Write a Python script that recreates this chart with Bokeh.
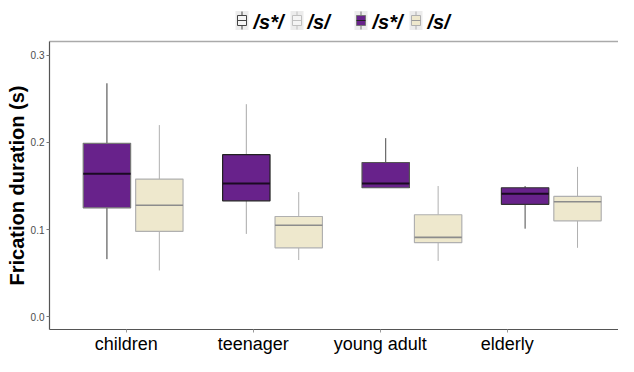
from bokeh.plotting import figure
from bokeh.layouts import column
from bokeh.models import (ColumnDataSource, Range1d, LinearAxis, FixedTicker,
                          PrintfTickFormatter)
from bokeh.core.properties import value
from bokeh.embed import file_html
from bokeh.resources import INLINE

# ---- data ----
categories = ["children", "teenager", "young adult", "elderly"]
series = ["/s*/", "/s/"]

sstar_lower = [0.066, 0.095, 0.148, 0.101]
sstar_q1 = [0.125, 0.133, 0.148, 0.129]
sstar_median = [0.164, 0.153, 0.153, 0.141]
sstar_q3 = [0.199, 0.186, 0.177, 0.148]
sstar_upper = [0.268, 0.244, 0.205, 0.150]

s_lower = [0.053, 0.065, 0.064, 0.079]
s_q1 = [0.098, 0.079, 0.085, 0.110]
s_median = [0.128, 0.105, 0.091, 0.132]
s_q3 = [0.158, 0.115, 0.117, 0.138]
s_upper = [0.220, 0.143, 0.150, 0.172]

y_ticks = [0.0, 0.1, 0.2, 0.3]

# ---- styles ----
PURPLE = "#68228B"
BEIGE = "#EEE8CD"
FONT = "Liberation Sans"
W = 618
LEFT = 49
LEG_H = 33
dodge = 0.188
box_w = 0.34
sstar_outline = ["#777777", "#222222", "#555555", "#333333"]
sstar_whisker = ["#3c3c3c", "#a9a9a9", "#4a4a4a", "#4a4a4a"]

# ================= main plot =================
p = figure(width=W, height=356 - LEG_H, output_backend="svg", toolbar_location=None,
           x_range=Range1d(0.4, 4.482), y_range=Range1d(-0.0148, 0.316),
           x_axis_location=None, min_border_left=LEFT, min_border_right=0,
           min_border_top=8, min_border_bottom=24)
p.xgrid.visible = False
p.ygrid.visible = False
p.outline_line_color = None
p.background_fill_color = "white"
p.border_fill_color = "white"


def make_source(lower, q1, med, q3, upper, offset, outline, whisk):
    x = [i + 1 + offset for i in range(len(categories))]
    return ColumnDataSource(dict(
        x=x,
        left=[v - box_w / 2 for v in x],
        right=[v + box_w / 2 for v in x],
        lower=lower, q1=q1, med=med, q3=q3, upper=upper,
        outline=outline, whisk=whisk))


src_star = make_source(sstar_lower, sstar_q1, sstar_median, sstar_q3, sstar_upper,
                       -dodge, sstar_outline, sstar_whisker)
src_s = make_source(s_lower, s_q1, s_median, s_q3, s_upper,
                    dodge, ["#b0b0b0"] * 4, ["#b0b0b0"] * 4)

for src, fill, med_col, med_w in [(src_star, PURPLE, "#1a0a22", 2), (src_s, BEIGE, "#8c8c8c", 1.6)]:
    p.segment(x0="x", x1="x", y0="q3", y1="upper", source=src, line_color="whisk", line_width=1)
    p.segment(x0="x", x1="x", y0="lower", y1="q1", source=src, line_color="whisk", line_width=1)
    p.quad(left="left", right="right", bottom="q1", top="q3", source=src,
           fill_color=fill, line_color="outline", line_width=1.2)
    p.segment(x0="left", x1="right", y0="med", y1="med", source=src,
              line_color=med_col, line_width=med_w)

# ---- y axis ----
ya = p.yaxis[0]
ya.ticker = FixedTicker(ticks=y_ticks)
ya.formatter = PrintfTickFormatter(format="%.1f")
ya.axis_label = "Frication duration (s)"
ya.axis_label_text_font = FONT
ya.axis_label_text_font_size = "20px"
ya.axis_label_text_font_style = "bold"
ya.axis_label_text_color = "black"
ya.axis_label_standoff = 0
ya.major_label_text_font = FONT
ya.major_label_text_font_size = "10px"
ya.major_label_text_color = "#4d4d4d"
ya.major_label_standoff = 2
ya.axis_line_color = "#555555"
ya.axis_line_width = 1.2
ya.major_tick_line_color = "#777777"
ya.major_tick_in = 0
ya.major_tick_out = 3
ya.minor_tick_line_color = None

# ---- x axis (category labels) ----
p.extra_x_ranges = {"lab": Range1d(0.396, 4.876)}
xa = LinearAxis(x_range_name="lab", ticker=FixedTicker(ticks=[1, 2, 3, 4]),
                major_label_overrides={i + 1: c for i, c in enumerate(categories)})
xa.major_label_text_font = FONT
xa.major_label_text_font_size = "18px"
xa.major_label_text_color = "black"
xa.major_label_standoff = 1
xa.axis_line_color = "#555555"
xa.axis_line_width = 1.2
xa.major_tick_line_color = "#999999"
xa.major_tick_in = 0
xa.major_tick_out = 3
xa.minor_tick_line_color = None
p.add_layout(xa, "below")

# ---- top border ----
ta = LinearAxis(ticker=FixedTicker(ticks=[]), major_label_text_font_size="0px")
ta.axis_line_color = "#aaaaaa"
ta.axis_line_width = 1.5
ta.major_tick_line_color = None
ta.minor_tick_line_color = None
p.add_layout(ta, "above")

# ================= legend strip (coordinates = canvas pixels) =================
lg = figure(width=W, height=LEG_H, output_backend="svg", toolbar_location=None,
            x_range=Range1d(LEFT, W), y_range=Range1d(LEG_H, 0),
            x_axis_location=None, y_axis_location=None,
            min_border_left=LEFT, min_border_right=0,
            min_border_top=0, min_border_bottom=0)
lg.xgrid.visible = False
lg.ygrid.visible = False
lg.outline_line_color = None
lg.background_fill_color = "white"
lg.border_fill_color = "white"

key_x = [241.5, 296.5, 360.5, 415.5]          # key centres (layout)
key_fill = ["#f4f4f4", "#f4f4f4", PURPLE, BEIGE]
key_line = ["#444444", "#c0c0c0", "#777777", "#b0b0b0"]
key_med = ["#444444", "#c0c0c0", "#222222", "#999999"]
label_x = [253, 307, 372, 427]
labels = [series[0], series[1], series[0], series[1]]

lg.quad(left=[x - 6.5 for x in key_x], right=[x + 6.5 for x in key_x],
        top=[10.5] * 4, bottom=[29.5] * 4, fill_color="#ececec", line_color=None)
lg.segment(x0=key_x, x1=key_x, y0=[11] * 4, y1=[29] * 4, line_color=key_line, line_width=1)
lg.quad(left=[x - 4.5 for x in key_x], right=[x + 4.5 for x in key_x],
        top=[15] * 4, bottom=[25] * 4, fill_color=key_fill, line_color=key_line, line_width=1)
lg.segment(x0=[x - 4.5 for x in key_x], x1=[x + 4.5 for x in key_x],
           y0=[20] * 4, y1=[20] * 4, line_color=key_med, line_width=1.2)
lg.text(x=label_x, y=[21] * 4, text=labels, text_font=value(FONT),
        text_font_size="20px", text_font_style="bold italic", text_color="black",
        text_baseline="middle", text_align="left")

layout = column(lg, p, spacing=0)
open("out.html", "w").write(file_html(layout, INLINE))
